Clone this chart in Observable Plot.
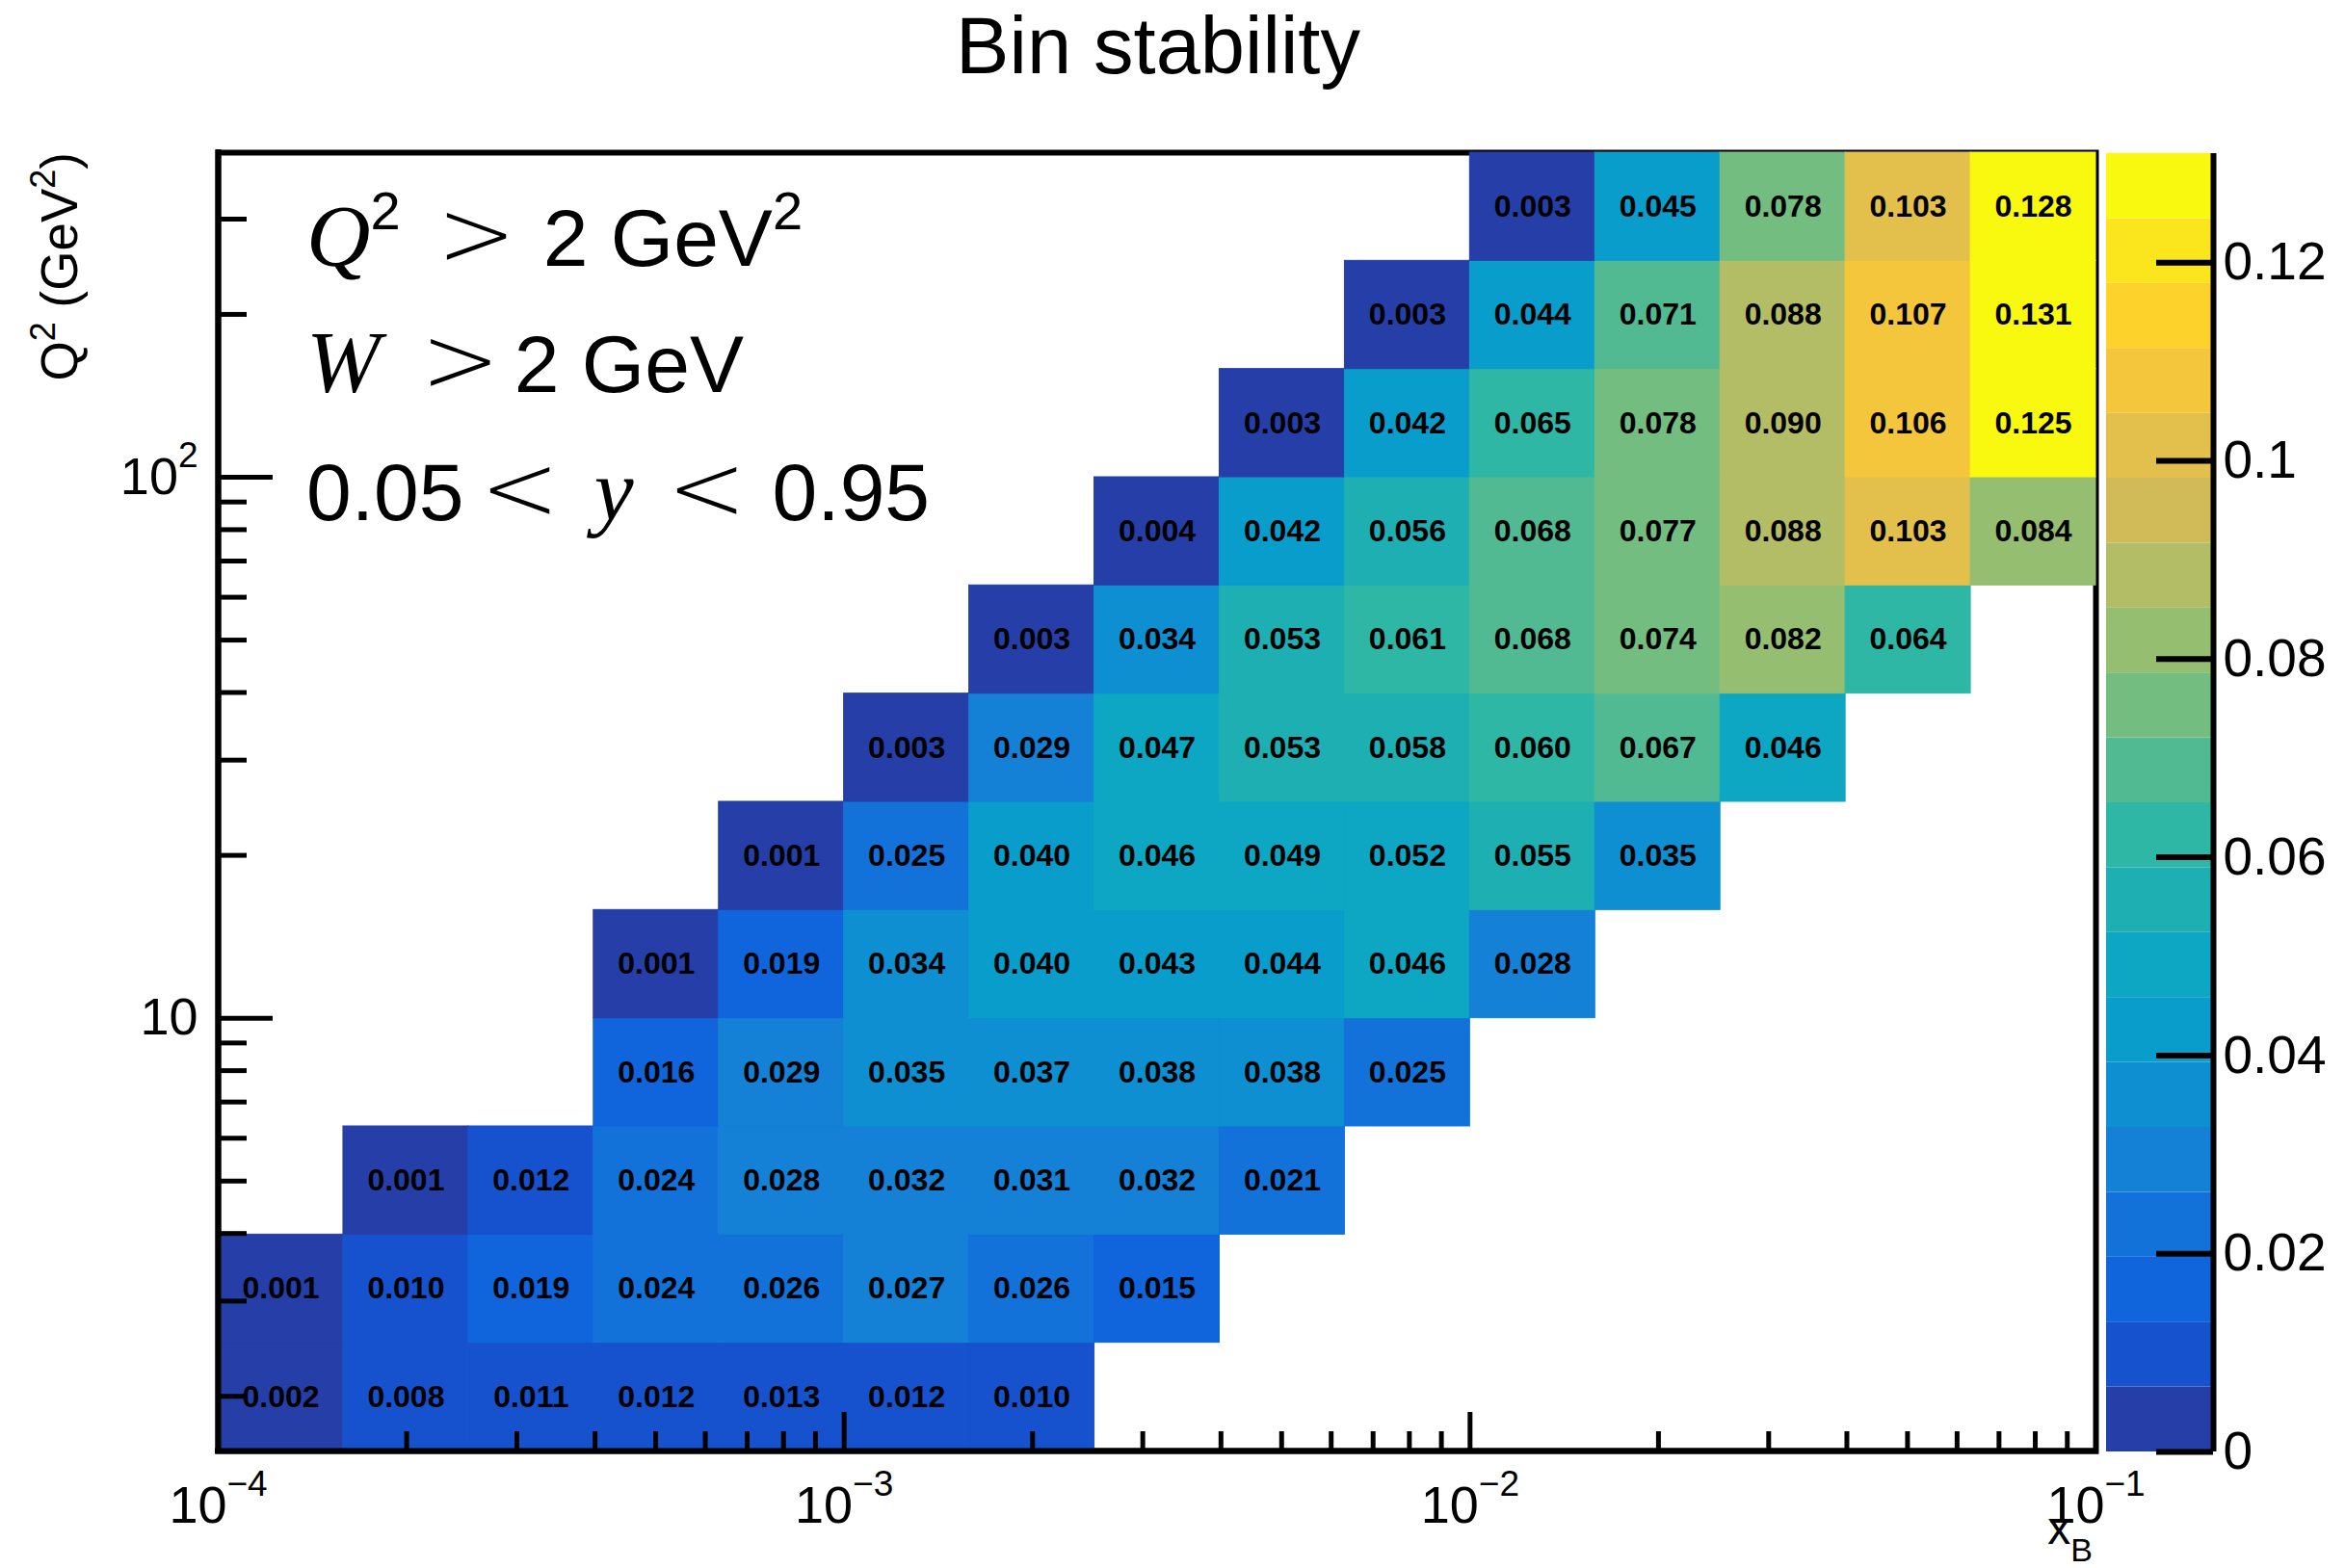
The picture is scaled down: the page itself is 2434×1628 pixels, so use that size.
<!DOCTYPE html>
<html><head><meta charset="utf-8">
<script src="https://cdn.jsdelivr.net/npm/d3@7"></script>
<script src="https://cdn.jsdelivr.net/npm/@observablehq/plot@0.6"></script>
<style>
html,body{margin:0;padding:0;background:#fff;}
#wrap{position:relative;width:2434px;height:1628px;overflow:hidden;}
#wrap svg{position:absolute;top:0;}
</style></head><body><div id="wrap"></div>
<script>
// ---- data ----
const xBinEdges = [1e-4, 1.585e-4, 2.512e-4, 3.981e-4, 6.310e-4, 1e-3, 1.585e-3, 2.512e-3, 3.981e-3, 6.310e-3, 1e-2, 1.585e-2, 2.512e-2, 3.981e-2, 6.310e-2, 1e-1];
const q2BinEdges = [1.585, 2.512, 3.981, 6.310, 10, 15.85, 25.12, 39.81, 63.10, 100, 158.5, 251.2, 398.1];
const rowStartBin = [0, 0, 1, 3, 3, 4, 5, 6, 7, 8, 9, 10];
const rowValues = [
  [0.002, 0.008, 0.011, 0.012, 0.013, 0.012, 0.010],
  [0.001, 0.010, 0.019, 0.024, 0.026, 0.027, 0.026, 0.015],
  [0.001, 0.012, 0.024, 0.028, 0.032, 0.031, 0.032, 0.021],
  [0.016, 0.029, 0.035, 0.037, 0.038, 0.038, 0.025],
  [0.001, 0.019, 0.034, 0.040, 0.043, 0.044, 0.046, 0.028],
  [0.001, 0.025, 0.040, 0.046, 0.049, 0.052, 0.055, 0.035],
  [0.003, 0.029, 0.047, 0.053, 0.058, 0.060, 0.067, 0.046],
  [0.003, 0.034, 0.053, 0.061, 0.068, 0.074, 0.082, 0.064],
  [0.004, 0.042, 0.056, 0.068, 0.077, 0.088, 0.103, 0.084],
  [0.003, 0.042, 0.065, 0.078, 0.090, 0.106, 0.125],
  [0.003, 0.044, 0.071, 0.088, 0.107, 0.131],
  [0.003, 0.045, 0.078, 0.103, 0.128]
];
const xMajorTicks = [1e-4, 1e-3, 1e-2, 1e-1];
const xMinorTicks = [2e-4,3e-4,4e-4,5e-4,6e-4,7e-4,8e-4,9e-4, 2e-3,3e-3,4e-3,5e-3,6e-3,7e-3,8e-3,9e-3, 2e-2,3e-2,4e-2,5e-2,6e-2,7e-2,8e-2,9e-2];
const yMajorTicks = [10, 100];
const yMinorTicks = [2,3,4,5,6,7,8,9, 20,30,40,50,60,70,80,90, 200,300];
const zMax = 0.131;
const nContours = 20;
const zTicks = [0, 0.02, 0.04, 0.06, 0.08, 0.10, 0.12];

// ROOT kBird palette
const birdStops = [0, 0.125, 0.25, 0.375, 0.5, 0.625, 0.75, 0.875, 1];
const birdR = [0.2082, 0.0592, 0.0780, 0.0232, 0.1802, 0.5301, 0.8186, 0.9956, 0.9764];
const birdG = [0.1664, 0.3599, 0.5041, 0.6419, 0.7178, 0.7492, 0.7328, 0.7862, 0.9832];
const birdB = [0.5293, 0.8684, 0.8385, 0.7914, 0.6425, 0.4662, 0.3499, 0.1968, 0.0539];

function rootGradient(n) {
  const table = [];
  for (let g = 1; g < birdStops.length; g++) {
    const nc = Math.floor(n * birdStops[g]) - Math.floor(n * birdStops[g - 1]);
    for (let c = 0; c < nc; c++) {
      const f = c / nc;
      const rgb = [birdR, birdG, birdB].map(a => Math.round(255 * (a[g - 1] + f * (a[g] - a[g - 1]))));
      table.push(`rgb(${rgb.join(",")})`);
    }
  }
  return table;
}
const gradient = rootGradient(255);
const levelColors = d3.range(nContours).map(i => gradient[Math.floor((i + 0.99) * 255 / nContours)]);
const thresholds = d3.range(1, nContours).map(k => k * zMax / nContours);
const colorScale = {type: "threshold", domain: thresholds, range: levelColors};

// build table
const cells = [];
rowValues.forEach((vals, r) => vals.forEach((v, i) => {
  const c = rowStartBin[r] + i;
  cells.push({x1: xBinEdges[c], x2: xBinEdges[c + 1], y1: q2BinEdges[r], y2: q2BinEdges[r + 1], v});
}));

const W = 2434, H = 1628;
const mL = 226, mR = 259, mT = 158, mB = 122;
const fw = W - mL - mR, fh = H - mT - mB;
const font = "'Liberation Sans', Arial, Helvetica, sans-serif";

const main = Plot.plot({
  width: W, height: H,
  marginLeft: mL, marginRight: mR, marginTop: mT, marginBottom: mB,
  x: {type: "log", domain: [xBinEdges[0], xBinEdges[xBinEdges.length - 1]], label: null},
  y: {type: "log", domain: [q2BinEdges[0], q2BinEdges[q2BinEdges.length - 1]], label: null},
  color: colorScale,
  style: {fontFamily: font, background: "white", overflow: "visible", color: "black"},
  marks: [
    Plot.frame({stroke: "black", strokeWidth: 6}),
    Plot.rect(cells, {x1: "x1", x2: "x2", y1: "y1", y2: "y2", fill: "v", stroke: "v", strokeWidth: 1}),
    Plot.ruleX([xBinEdges[0]], {stroke: "black", strokeWidth: 6, strokeLinecap: "square"}),
    Plot.ruleY([q2BinEdges[0]], {stroke: "black", strokeWidth: 6, strokeLinecap: "square"}),
    Plot.tickX(xMinorTicks, {x: d => d, stroke: "black", strokeWidth: 5, insetTop: fh - 20}),
    Plot.tickX(xMajorTicks, {x: d => d, stroke: "black", strokeWidth: 5, insetTop: fh - 40}),
    Plot.tickY(yMinorTicks, {y: d => d, stroke: "black", strokeWidth: 5, insetRight: fw - 30}),
    Plot.tickY(yMajorTicks, {y: d => d, stroke: "black", strokeWidth: 5, insetRight: fw - 57}),
    Plot.text(cells, {
      x: d => Math.sqrt(d.x1 * d.x2), y: d => Math.sqrt(d.y1 * d.y2),
      text: d => d3.format(".3f")(d.v), fontSize: 32, fontWeight: "bold", fill: "black"
    }),
    Plot.axisX(xMajorTicks, {tickSize: 0, tickPadding: 36, fontSize: 54, label: null,
      tickFormat: d => "10^" + Math.round(Math.log10(d))}),
    Plot.axisY(yMajorTicks, {tickSize: 0, tickPadding: 21, fontSize: 54, label: null,
      tickFormat: d => d === 10 ? "10" : "10^" + Math.round(Math.log10(d))})
  ]
});
main.style.left = "0px";

// superscripts on tick labels
d3.select(main).selectAll("text").each(function () {
  const t = d3.select(this);
  if (t.selectAll("tspan").size() > 0) return;
  const s = t.text();
  const parts = s.split("^");
  if (parts.length === 2) {
    t.text("");
    t.append("tspan").text(parts[0]);
    t.append("tspan").attr("font-size", 37).attr("dy", -28).text(parts[1].replace("-", "\u2212"));
  }
});

const svg = d3.select(main);
// title
svg.append("text").attr("x", 1202).attr("y", 76).attr("text-anchor", "middle")
  .attr("font-size", 83).attr("font-family", font).text("Bin stability");

// y axis title
const yt = svg.append("text").attr("transform", "translate(80,158) rotate(-90)")
  .attr("text-anchor", "end").attr("font-size", 53).attr("font-family", font);
yt.append("tspan").text("Q");
yt.append("tspan").attr("font-size", 36).attr("dy", -23).text("2");
yt.append("tspan").attr("dy", 23).text(" (GeV");
yt.append("tspan").attr("font-size", 36).attr("dy", -23).text("2");
yt.append("tspan").attr("dy", 23).text(")");

// x axis title
const xt = svg.append("text").attr("x", 2172).attr("y", 1603)
  .attr("text-anchor", "end").attr("font-size", 48).attr("font-family", font);
xt.append("tspan").text("x");
xt.append("tspan").attr("font-size", 34).attr("dy", 18).text("B");

// cut annotations
const serif = "'Liberation Serif', 'Times New Roman', serif";
const sym = "'DejaVu Sans', sans-serif";
const annSize = 84, symSize = 98;
function line(y) {
  return svg.append("text").attr("x", 318).attr("y", y).attr("text-anchor", "start")
    .attr("font-size", annSize).attr("font-family", font);
}
function relOp(t, ch, dx) {
  return t.append("tspan").attr("dx", dx).attr("font-family", sym).attr("font-weight", 200)
    .attr("font-size", symSize).text(ch);
}
const l1 = line(276);
l1.append("tspan").attr("font-family", serif).attr("font-style", "italic").attr("font-size", 92).text("Q");
l1.append("tspan").attr("font-size", 56).attr("dy", -38).text("2");
relOp(l1, ">", 38).attr("dy", 38);
l1.append("tspan").attr("dx", 28).text("2 GeV");
l1.append("tspan").attr("font-size", 56).attr("dy", -38).text("2");

const l2 = line(407);
l2.append("tspan").attr("font-family", serif).attr("font-style", "italic").attr("font-size", 92).text("W");
relOp(l2, ">", 42);
l2.append("tspan").attr("dx", 15).text("2 GeV");

const l3 = line(540);
l3.append("tspan").text("0.05");
relOp(l3, "<", 17);
l3.append("tspan").attr("dx", 36).attr("font-family", serif).attr("font-style", "italic").attr("font-size", 92).text("y");
relOp(l3, "<", 35);
l3.append("tspan").attr("dx", 27).text("0.95");

// ---- colour bar ----
const levels = levelColors.map((c, i) => ({lo: i * zMax / nContours, hi: (i + 1) * zMax / nContours, mid: (i + 0.5) * zMax / nContours}));
const barW = 248, barInner = 111;
const bar = Plot.plot({
  width: barW, height: H,
  marginLeft: 0, marginRight: barW - barInner, marginTop: mT + 1, marginBottom: mB - 1,
  x: {domain: [0, 1], axis: null},
  y: {domain: [0, zMax], axis: null},
  color: colorScale,
  style: {fontFamily: font, background: "transparent", overflow: "visible", color: "black"},
  marks: [
    Plot.rect(levels, {y1: "lo", y2: "hi", fill: "mid"}),
    Plot.ruleX([1], {stroke: "black", strokeWidth: 6}),
    Plot.tickY(zTicks, {y: d => d, stroke: "black", strokeWidth: 6, insetLeft: barInner - 59}),
    Plot.axisY(zTicks, {anchor: "right", tickSize: 0, tickPadding: 10, fontSize: 55, label: null,
      tickFormat: d => d === 0 ? "0" : String(+d.toFixed(2))})
  ]
});
bar.style.left = "2186px";

document.getElementById("wrap").append(main, bar);
</script>
</body></html>
